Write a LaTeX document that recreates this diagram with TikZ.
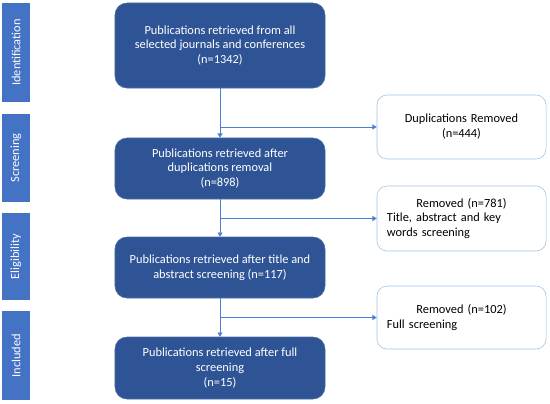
\documentclass[tikz,border=0pt]{standalone}
\usepackage{fontspec}
\setmainfont{Carlito}
\usetikzlibrary{arrows.meta,positioning}
\definecolor{darkbox}{HTML}{2F5496}
\definecolor{stagebar}{HTML}{4472C4}
\definecolor{lightedge}{HTML}{9DC3E6}
\definecolor{linkline}{HTML}{4A7FD3}

\begin{document}
\begin{tikzpicture}[x=0.025cm, y=-0.025cm, font=\fontsize{8.8}{10.6}\selectfont, >={Triangle[length=3pt,width=3.5pt]}]
\tikzstyle{pub}=[draw=darkbox!85!white, fill=darkbox, text=white, rounded corners=0.3cm, minimum width=5.25cm, align=center, inner sep=2pt]
\tikzstyle{rem}=[draw=lightedge, fill=white, rounded corners=0.25cm, text width=3.725cm, inner xsep=0.25cm, minimum height=1.6cm]
\tikzstyle{stage}=[fill=stagebar, text=white, minimum height=0.7cm, rotate=90]
\tikzstyle{link}=[->, linkline, line width=0.6pt]
\useasboundingbox (0,0) rectangle (550,403);
% stages
\node[stage, minimum width=2.475cm] (ident) at (16,52.5) {Identification};
\node[stage, minimum width=2.2cm] (screen) at (16,158) {Screening};
\node[stage, minimum width=2.175cm] (elig) at (16,256.5) {Eligibility};
\node[stage, minimum width=2.225cm] (incl) at (16,355.5) {Included};
% main flow
\node[pub, minimum height=2.125cm] (pub1) at (220,45.5) {Publications retrieved from all\\selected journals and conferences\\(n=1342)};
\node[pub, minimum height=1.525cm] (pub2) at (220,168.5) {Publications retrieved after\\duplications removal\\(n=898)};
\node[pub, minimum height=1.525cm] (pub3) at (220,267.5) {Publications retrieved after title and\\abstract screening (n=117)};
\node[pub, minimum height=1.55cm] (pub4) at (220,368) {Publications retrieved after full\\screening\\(n=15)};
% removed records
\node[rem, align=center] (rem1) at (461.5,127) {Duplications Removed\\(n=444)};
\node[rem, align=left, minimum height=1.625cm] (rem2) at (461.5,218.5) {\makebox[3.725cm]{Removed (n=781)}\\Title, abstract and key\\words screening};
\node[rem, align=left, minimum height=1.575cm] (rem3) at (461.5,317.5) {\makebox[3.725cm]{Removed (n=102)}\\Full screening};
\draw[link] (pub1.south) -- (pub2.north);
\draw[link] (pub2.south) -- (pub3.north);
\draw[link] (pub3.south) -- (pub4.north);
\draw[link] (pub1.south |- rem1.west) -- (rem1.west);
\draw[link] (pub2.south |- rem2.west) -- (rem2.west);
\draw[link] (pub3.south |- rem3.west) -- (rem3.west);
\end{tikzpicture}
\end{document}
